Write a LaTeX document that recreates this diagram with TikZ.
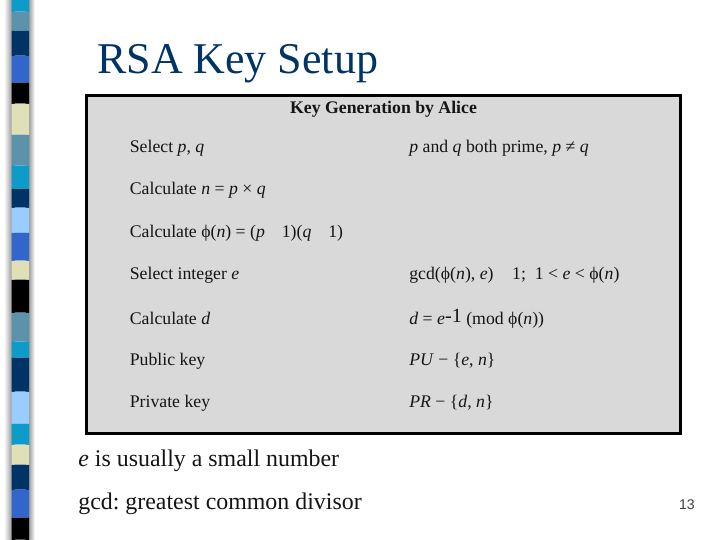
\documentclass[tikz,border=0pt]{standalone}
\usepackage{fontspec}
\setmainfont{Liberation Serif}
\setsansfont{Liberation Sans}
\definecolor{stripcyan}{HTML}{0D9CC9}
\definecolor{stripsteel}{HTML}{5B93AB}
\definecolor{stripnavy}{HTML}{003366}
\definecolor{stripblue}{HTML}{3366CC}
\definecolor{stripcream}{HTML}{E0E0B8}
\definecolor{striplight}{HTML}{99CCFF}
\definecolor{boxgrey}{HTML}{D9D9D9}
\definecolor{textblack}{HTML}{151515}
\tikzset{
    titletext/.style={anchor=base west,inner sep=0pt,font=\fontsize{25}{28}\selectfont,text=stripnavy},
    headtext/.style={anchor=base,inner sep=0pt,font=\fontsize{10.1}{12}\selectfont\bfseries,text=textblack},
    celltext/.style={anchor=base west,inner sep=0pt,font=\fontsize{10.1}{12}\selectfont,text=textblack},
    notetext/.style={anchor=base west,inner sep=0pt,font=\fontsize{13.6}{16}\selectfont,text=textblack},
    pagenum/.style={anchor=base east,inner sep=0pt,font=\sffamily\fontsize{8}{10}\selectfont,text=black!75}
}
\frenchspacing
\begin{document}
\begin{tikzpicture}[x=0.02cm,y=-0.02cm]
    \useasboundingbox (0,0) rectangle (720,540);
    \fill[white] (0,0) rectangle (720,540);
    % strip down the left side
    \shade[left color=white,right color=black!40] (4,0) rectangle (12,540);
    \shade[left color=black!50,right color=white] (27,0) rectangle (35,540);
    \foreach \ya/\yb/\col in {0/12/stripcyan,12/31/stripsteel,31/56/stripnavy,56/83/stripblue,83/104/black,
        104/135/stripcream,135/166/stripsteel,166/189/stripcyan,189/208/stripnavy,208/233/striplight,
        233/261/stripblue,261/280/stripcream,280/313/black,313/342/stripsteel,342/358/stripcyan,
        358/392/stripnavy,392/424/striplight,424/445/stripcyan,445/465/stripcream,465/490/stripnavy,
        490/518/stripblue,518/540/black}
        \fill[\col] (11.5,\ya) to[bend left=5] (29,\ya) -- (29,\yb) to[bend right=5] (11.5,\yb) -- cycle;
    \node[titletext] (title) at (97,74) {RSA Key Setup};
    % table
    \draw[line width=1.7pt,fill=boxgrey] (86.5,95.5) rectangle (680.5,433.5);
    \node[headtext] (head) at (383.5,113.5) {Key Generation by Alice};
    \node[celltext] (selpq) at (129.5,153) {Select \textit{p}, \textit{q}};
    \node[celltext] (caln) at (129.5,195) {Calculate \textit{n} = \textit{p} × \textit{q}};
    \node[celltext] (calphi) at (129.5,238) {Calculate ϕ(\textit{n}) = (\textit{p}\hspace{0.95em}1)(\textit{q}\hspace{0.95em}1)};
    \node[celltext] (sele) at (129.5,280) {Select integer \textit{e}};
    \node[celltext] (cald) at (129.5,325) {Calculate \textit{d}};
    \node[celltext] (pubkey) at (129.5,366) {Public key};
    \node[celltext] (privkey) at (129.5,407) {Private key};
    \node[celltext] (prime) at (409,153) {\textit{p} and \textit{q} both prime, \textit{p} ≠ \textit{q}};
    \node[celltext] (gcdcond) at (409,280) {gcd(ϕ(\textit{n}), \textit{e})\hspace{1.05em}1;\hspace{0.5em}1 < \textit{e} < ϕ(\textit{n})};
    \node[celltext] (dval) at (409,325) {\textit{d} = \textit{e}\raisebox{0.3ex}{\fontsize{11.5}{13}\selectfont -1} (mod ϕ(\textit{n}))};
    \node[celltext] (pubval) at (409,366) {\textit{PU} − \{\textit{e}, \textit{n}\}};
    \node[celltext] (privval) at (409,407) {\textit{PR} − \{\textit{d}, \textit{n}\}};
    % notes under the table
    \node[notetext] (note1) at (78,466) {\textit{e} is usually a small number};
    \node[notetext] (note2) at (78,509) {gcd: greatest common divisor};
    \node[pagenum] (page) at (695,509) {13};
\end{tikzpicture}
\end{document}
